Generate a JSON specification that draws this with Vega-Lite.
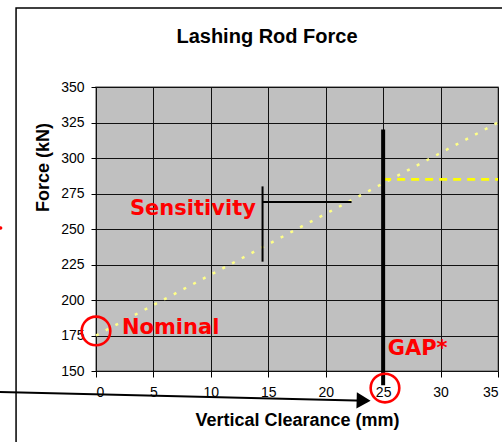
{
  "$schema": "https://vega.github.io/schema/vega-lite/v6.json",
  "width": 402,
  "height": 284,
  "autosize": "none",
  "padding": {"left": 96, "top": 87, "right": 4, "bottom": 71},
  "background": "white",
  "title": {
    "text": "Lashing Rod Force",
    "font": "Liberation Sans",
    "fontSize": 20,
    "fontWeight": "bold",
    "color": "#000000",
    "anchor": "middle",
    "frame": "group",
    "dx": -30,
    "offset": -40
  },
  "config": {
    "view": {"stroke": "#808080", "fill": "#C0C0C0", "strokeWidth": 1.5},
    "axis": {
      "grid": true,
      "gridColor": "#111111",
      "gridWidth": 1,
      "domain": false,
      "tickColor": "#000000",
      "labelFont": "Liberation Sans",
      "labelFontSize": 14,
      "labelColor": "#000000",
      "titleFont": "Liberation Sans",
      "titleFontSize": 18,
      "titleFontWeight": "bold",
      "titleColor": "#000000"
    }
  },
  "encoding": {
    "x": {
      "field": "x",
      "type": "quantitative",
      "scale": {"domain": [0, 35], "nice": false, "zero": false},
      "axis": {
        "values": [0, 5, 10, 15, 20, 25, 30, 35],
        "title": "Vertical Clearance (mm)",
        "tickSize": 6,
        "labelPadding": 8,
        "titlePadding": 12
      }
    },
    "y": {
      "field": "y",
      "type": "quantitative",
      "scale": {"domain": [150, 350], "nice": false, "zero": false},
      "axis": {
        "values": [150, 175, 200, 225, 250, 275, 300, 325, 350],
        "title": "Force (kN)",
        "tickSize": 5,
        "labelPadding": 7,
        "titlePadding": 8,
        "titleY": 80
      }
    }
  },
  "layer": [
    {
      "data": {"values": [{"x": -6.96, "y": 405.6, "x2": 45, "y2": 80}]},
      "mark": {"type": "rect", "fill": null, "stroke": "#000000", "strokeWidth": 1.5},
      "encoding": {"x2": {"field": "x2"}, "y2": {"field": "y2"}}
    },
    {
      "data": {"values": [{"x": 0, "y": 175}, {"x": 35, "y": 325}]},
      "mark": {"type": "line", "color": "#FFFF88", "strokeWidth": 2.5, "strokeDash": [3, 8]},
      "encoding": {}
    },
    {
      "data": {"values": [{"x": 25, "y": 285}, {"x": 35, "y": 285}]},
      "mark": {"type": "line", "color": "#FFFF00", "strokeWidth": 2.7, "strokeDash": [8, 6]},
      "encoding": {}
    },
    {
      "data": {"values": [{"x": 25, "y": 140, "y2": 320}]},
      "mark": {"type": "rule", "color": "#000000", "strokeWidth": 4},
      "encoding": {"y2": {"field": "y2"}}
    },
    {
      "data": {"values": [{"x": 14.5, "y": 227, "y2": 280}]},
      "mark": {"type": "rule", "color": "#000000", "strokeWidth": 2},
      "encoding": {"y2": {"field": "y2"}}
    },
    {
      "data": {"values": [{"x": 14.5, "x2": 22.25, "y": 269}]},
      "mark": {"type": "rule", "color": "#000000", "strokeWidth": 2},
      "encoding": {"x2": {"field": "x2"}}
    },
    {
      "data": {"values": [{"x": -9, "y": 135.3}, {"x": 23.5, "y": 129.1}]},
      "mark": {"type": "line", "color": "#000000", "strokeWidth": 2},
      "encoding": {}
    },
    {
      "data": {"values": [{"x": 23.3, "y": 129.2}]},
      "mark": {"type": "point", "shape": "triangle-right", "filled": true, "color": "#000000", "size": 260, "opacity": 1, "angle": 1.5},
      "encoding": {}
    },
    {
      "data": {"values": [{"x": 0, "y": 178.2}, {"x": 25.16, "y": 138}]},
      "mark": {"type": "point", "shape": "circle", "filled": false, "color": "#FF0000", "size": 820, "strokeWidth": 2.6, "opacity": 1},
      "encoding": {}
    },
    {
      "data": {"values": [{"x": -8.3, "y": 250.7}]},
      "mark": {"type": "point", "shape": "circle", "filled": true, "color": "#FF0000", "size": 12, "opacity": 1},
      "encoding": {}
    },
    {
      "data": {"values": [
        {"x": 2.96, "y": 260, "label": "Sensitivity"},
        {"x": 2.26, "y": 176, "label": "Nominal"},
        {"x": 25.4, "y": 161.3, "label": "GAP*"}
      ]},
      "mark": {"type": "text", "align": "left", "baseline": "alphabetic", "font": "DejaVu Sans", "fontWeight": "bold", "fontSize": 21, "color": "#FF0000"},
      "encoding": {"text": {"field": "label"}}
    }
  ]
}
